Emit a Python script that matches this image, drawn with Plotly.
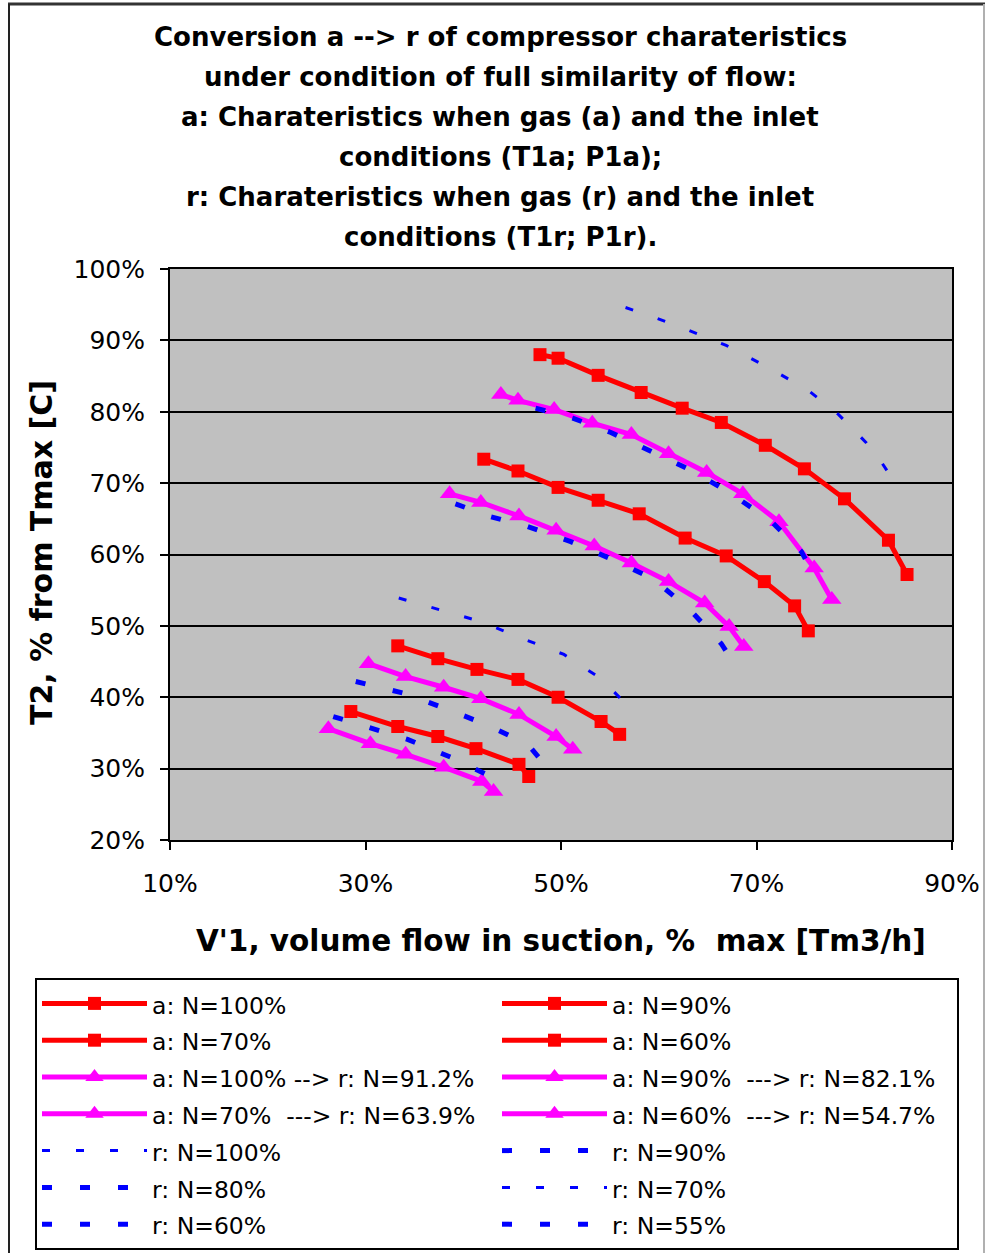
import plotly.graph_objects as go

# ---- data ----
a100_x = [47.85, 49.7, 53.8, 58.2, 62.4, 66.4, 70.9, 74.9, 79.0, 83.5, 85.4]
a100_y = [88.0, 87.5, 85.1, 82.7, 80.5, 78.5, 75.3, 72.0, 67.8, 62.0, 57.2]
a90_x = [42.1, 45.6, 49.7, 53.8, 58.0, 62.7, 66.9, 70.8, 73.9, 75.3]
a90_y = [73.35, 71.7, 69.4, 67.6, 65.7, 62.3, 59.8, 56.2, 52.8, 49.3]
a70_x = [33.3, 37.4, 41.4, 45.6, 49.7, 54.1, 56.0]
a70_y = [47.2, 45.4, 43.9, 42.5, 40.0, 36.6, 34.8]
a60_x = [28.5, 33.3, 37.4, 41.3, 45.7, 46.7]
a60_y = [38.0, 35.9, 34.5, 32.8, 30.6, 28.9]

m100_x = [43.85, 45.6, 49.3, 53.2, 57.2, 61.0, 64.9, 68.6, 72.3, 75.9, 77.7]
m100_y = [82.4, 81.6, 80.3, 78.4, 76.8, 74.1, 71.5, 68.5, 64.6, 58.1, 53.7]
m90_x = [38.6, 41.8, 45.7, 49.5, 53.4, 57.2, 61.0, 64.7, 67.2, 68.7]
m90_y = [68.5, 67.3, 65.4, 63.4, 61.2, 58.8, 56.2, 53.2, 49.9, 47.1]
m70_x = [30.3, 34.1, 38.0, 41.8, 45.7, 49.5, 51.2]
m70_y = [44.7, 42.9, 41.4, 39.8, 37.6, 34.5, 32.7]
m60_x = [26.2, 30.5, 34.1, 38.0, 41.9, 43.1]
m60_y = [35.6, 33.5, 32.0, 30.2, 28.2, 26.8]

r100_x = [56.6, 59.0, 62.9, 66.9, 71.2, 75.3, 78.4, 81.2, 82.8, 83.8]
r100_y = [94.6, 93.5, 91.5, 89.3, 86.2, 83.0, 79.6, 75.7, 72.9, 70.8]
r90_x = [47.4, 51.2, 55.1, 59.4, 63.3, 67.2, 71.4, 74.6, 75.4]
r90_y = [80.5, 79.1, 77.1, 74.3, 71.8, 68.7, 64.8, 60.4, 58.3]
r80_x = [39.2, 42.8, 46.6, 51.0, 55.1, 59.4, 63.1, 66.4, 67.6]
r80_y = [67.1, 65.3, 63.9, 61.8, 59.4, 56.6, 52.4, 47.5, 45.0]
r70_x = [33.4, 37.5, 41.8, 46.1, 50.3, 54.1, 56.4, 57.4]
r70_y = [53.9, 52.3, 50.6, 48.2, 46.0, 42.6, 39.4, 37.2]
r60_x = [29.0, 34.1, 38.4, 42.3, 46.6, 47.9]
r60_y = [42.2, 40.5, 38.3, 36.2, 33.4, 31.3]
r55_x = [26.7, 30.0, 34.3, 38.9, 42.8]
r55_y = [37.3, 35.9, 34.1, 31.5, 28.9]

title_lines = [
    "Conversion a --> r of compressor charateristics",
    "under condition of full similarity of flow:",
    "a: Charateristics when gas (a) and the inlet",
    "conditions (T1a; P1a);",
    "r: Charateristics when gas (r) and the inlet",
    "conditions (T1r; P1r).",
]
x_title = "V'1, volume flow in suction, %  max [Tm3/h]"
y_title = "T2, % from Tmax [C]"
x_ticks = [10, 30, 50, 70, 90]
y_ticks = [20, 30, 40, 50, 60, 70, 80, 90, 100]

# ---- style ----
RED = "#FF0000"
MAG = "#FF00FF"
BLUE = "#0000FF"

series = [
    ("a: N=100%", a100_x, a100_y, "a"),
    ("a: N=90%", a90_x, a90_y, "a"),
    ("a: N=70%", a70_x, a70_y, "a"),
    ("a: N=60%", a60_x, a60_y, "a"),
    ("a: N=100% --> r: N=91.2%", m100_x, m100_y, "m"),
    ("a: N=90%  ---> r: N=82.1%", m90_x, m90_y, "m"),
    ("a: N=70%  ---> r: N=63.9%", m70_x, m70_y, "m"),
    ("a: N=60%  ---> r: N=54.7%", m60_x, m60_y, "m"),
    ("r: N=100%", r100_x, r100_y, "rthin"),
    ("r: N=90%", r90_x, r90_y, "r"),
    ("r: N=80%", r80_x, r80_y, "r"),
    ("r: N=70%", r70_x, r70_y, "rthin"),
    ("r: N=60%", r60_x, r60_y, "r"),
    ("r: N=55%", r55_x, r55_y, "r"),
]

LEG_TXT = 23.5

fig = go.Figure()
for name, xs, ys, kind in series:
    label = f'<span style="font-size:{LEG_TXT}px">{name}</span>'
    if kind == "a":
        fig.add_trace(go.Scatter(x=xs, y=ys, name=label, mode="lines+markers",
                                 line=dict(color=RED, width=5),
                                 marker=dict(symbol="square", size=13, color=RED)))
    elif kind == "m":
        fig.add_trace(go.Scatter(x=xs, y=ys, name=label, mode="lines+markers",
                                 line=dict(color=MAG, width=5),
                                 marker=dict(symbol="triangle-up", size=17, color=MAG)))
    elif kind == "rthin":
        fig.add_trace(go.Scatter(x=xs, y=ys, name=label, mode="lines",
                                 line=dict(color=BLUE, width=3, dash="8px,26px")))
    else:
        fig.add_trace(go.Scatter(x=xs, y=ys, name=label, mode="lines",
                                 line=dict(color=BLUE, width=5, dash="10px,28px")))

# body margin is removed in the page (post_script), so figure px == screen px
W, H = 985, 1253
L, R, T, B = 170, 952, 269, 840
pw, ph = R - L, B - T

def px_x(p):
    return (p - L) / pw

def px_y(p):
    return (B - p) / ph

annotations = []
for i, line in enumerate(title_lines):
    annotations.append(dict(text="<b>" + line + "</b>", xref="paper", yref="paper",
                            x=px_x(500), y=px_y(37 + 40 * i),
                            xanchor="center", yanchor="middle", showarrow=False,
                            font=dict(family="DejaVu Sans", size=26, color="black")))
annotations.append(dict(text="<b>" + x_title + "</b>", xref="paper", yref="paper",
                        x=px_x(561), y=px_y(941), xanchor="center", yanchor="middle",
                        showarrow=False,
                        font=dict(family="DejaVu Sans", size=29.5, color="black")))
annotations.append(dict(text="<b>" + y_title + "</b>", xref="paper", yref="paper",
                        x=px_x(41), y=px_y(553), xanchor="center", yanchor="middle",
                        showarrow=False, textangle=-90,
                        font=dict(family="DejaVu Sans", size=30, color="black")))

shapes = [
    dict(type="line", xref="paper", yref="paper", x0=px_x(8), x1=px_x(985),
         y0=px_y(4), y1=px_y(4), line=dict(color="#333333", width=3)),
    dict(type="line", xref="paper", yref="paper", x0=px_x(9), x1=px_x(9),
         y0=px_y(4), y1=px_y(1253), line=dict(color="#222222", width=2)),
    dict(type="line", xref="paper", yref="paper", x0=px_x(984), x1=px_x(984),
         y0=px_y(4), y1=px_y(1253), line=dict(color="#B0B0B0", width=2)),
]

fig.update_layout(
    width=W, height=H,
    margin=dict(l=L, r=W - R, t=T, b=H - B, autoexpand=False),
    paper_bgcolor="white",
    plot_bgcolor="#C0C0C0",
    showlegend=True,
    legend=dict(
        orientation="h",
        x=px_x(35), y=px_y(978), xanchor="left", yanchor="top",
        entrywidth=340, entrywidthmode="pixels",
        itemwidth=105,
        bgcolor="white", bordercolor="black", borderwidth=2,
        font=dict(family="DejaVu Sans", size=26, color="black"),
        traceorder="normal",
    ),
    annotations=annotations,
    shapes=shapes,
)

fig.update_xaxes(range=[10, 90], tickvals=x_ticks, ticktext=[f"{v}%" for v in x_ticks],
                 showgrid=False, zeroline=False,
                 showline=True, linecolor="black", linewidth=2, mirror=True,
                 ticks="outside", ticklen=8, tickwidth=2, tickcolor="black",
                 ticklabelstandoff=12,
                 tickfont=dict(family="DejaVu Sans", size=25, color="black"))
fig.update_yaxes(range=[20, 100], tickvals=y_ticks, ticktext=[f"{v}%" for v in y_ticks],
                 showgrid=True, gridcolor="black", gridwidth=2, zeroline=False,
                 showline=True, linecolor="black", linewidth=2, mirror=True,
                 ticks="outside", ticklen=8, tickwidth=2, tickcolor="black",
                 ticklabelstandoff=10,
                 tickfont=dict(family="DejaVu Sans", size=25, color="black"))

fig.write_html("out.html",
               config={"displayModeBar": False},
               post_script="document.body.style.margin='0';document.body.style.overflow='hidden';")
